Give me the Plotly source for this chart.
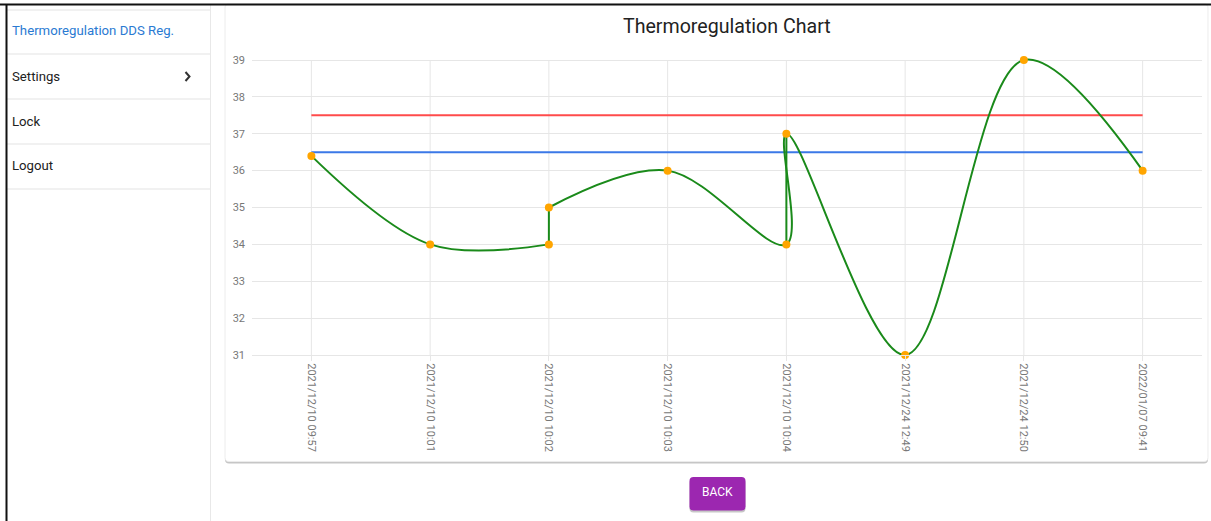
import plotly.graph_objects as go

W, H = 1211, 521
FIG_H = 528  # rendered height (compensates vertical squeeze seen in capture)

# ---------------- data ----------------
categories = ["2021/12/10 09:57", "2021/12/10 10:01", "2021/12/10 10:02", "2021/12/10 10:03",
              "2021/12/10 10:04", "2021/12/24 12:49", "2021/12/24 12:50", "2022/01/07 09:41"]
times = ["2021/12/10 09:57", "2021/12/10 10:01", "2021/12/10 10:02", "2021/12/10 10:02",
         "2021/12/10 10:03", "2021/12/10 10:04", "2021/12/10 10:04", "2021/12/24 12:49",
         "2021/12/24 12:50", "2022/01/07 09:41"]
temperature = [36.4, 34, 34, 35, 36, 34, 37, 31, 39, 36]
upper_limit = [37.5, 37.5, 37.5, 37.5, 37.5, 37.5, 37.5, 37.5]
lower_limit = [36.5, 36.5, 36.5, 36.5, 36.5, 36.5, 36.5, 36.5]
y_ticks = [31, 32, 33, 34, 35, 36, 37, 38, 39]

title_text = "Thermoregulation Chart"
menu_items = ["Thermoregulation DDS Reg.", "Settings", "Lock", "Logout"]
button_text = "BACK"

# pieces of the temperature line (start, stop, shape)
pieces = [(0, 3, "spline"), (2, 4, "linear"), (3, 10, "spline"), (5, 7, "linear")]


def px(x):
    return x / W


def py(y):
    return 1 - y / H


def rrect_path(x0, y0, x1, y1, r):
    pts = [
        ("M", [(x0 + r, y0)]), ("L", [(x1 - r, y0)]), ("Q", [(x1, y0), (x1, y0 + r)]),
        ("L", [(x1, y1 - r)]), ("Q", [(x1, y1), (x1 - r, y1)]), ("L", [(x0 + r, y1)]),
        ("Q", [(x0, y1), (x0, y1 - r)]), ("L", [(x0, y0 + r)]), ("Q", [(x0, y0), (x0 + r, y0)]),
    ]
    s = ""
    for cmd, ps in pts:
        s += cmd + " " + " ".join(f"{px(a):.5f},{py(b):.5f}" for a, b in ps) + " "
    return s + "Z"


FONT = "Roboto, Arial, sans-serif"
GRID = "#e6e6e6"

fig = go.Figure()

fig.add_trace(go.Scatter(x=categories, y=upper_limit, mode="lines",
                         line=dict(color="#ff4b4b", width=2), hoverinfo="skip"))
fig.add_trace(go.Scatter(x=categories, y=lower_limit, mode="lines",
                         line=dict(color="#3b78e7", width=2), hoverinfo="skip"))
for a, b, shape in pieces:
    fig.add_trace(go.Scatter(x=times[a:b], y=temperature[a:b], mode="lines",
                             line=dict(color="#1a8a1a", width=2, shape=shape, smoothing=1.0),
                             hoverinfo="skip"))
fig.add_trace(go.Scatter(x=times, y=temperature, mode="markers", cliponaxis=False,
                         marker=dict(color="#ffa500", size=8, line=dict(width=0))))

shapes = []
# sidebar & card
shapes.append(dict(type="path", xref="paper", yref="paper", layer="below",
                   path=rrect_path(225, 6, 1208, 463.5, 4), fillcolor="#c6c6c6", line=dict(width=0)))
shapes.append(dict(type="path", xref="paper", yref="paper", layer="below",
                   path=rrect_path(225, 4, 1208, 461.5, 4), fillcolor="white",
                   line=dict(color="#ececec", width=1)))
shapes.append(dict(type="line", xref="paper", yref="paper", layer="below",
                   x0=px(210.5), x1=px(210.5), y0=py(4), y1=py(521), line=dict(color="#e8e8e8", width=1)))
for yy in [10, 54, 99, 144, 189]:
    shapes.append(dict(type="line", xref="paper", yref="paper", layer="below",
                       x0=px(7), x1=px(210), y0=py(yy), y1=py(yy), line=dict(color="#e3e3e3", width=1)))
# chevron
shapes.append(dict(type="path", xref="paper", yref="paper",
                   path=f"M {px(185.5)},{py(72)} L {px(189.5)},{py(76.5)} L {px(185.5)},{py(81)}",
                   line=dict(color="#333333", width=2)))
# outer black border
shapes.append(dict(type="line", xref="paper", yref="paper",
                   x0=0, x1=1, y0=py(4.5), y1=py(4.5), line=dict(color="#111111", width=2)))
shapes.append(dict(type="line", xref="paper", yref="paper",
                   x0=px(6.5), x1=px(6.5), y0=py(4), y1=0, line=dict(color="#111111", width=2)))
# vertical gridlines
for c in categories:
    shapes.append(dict(type="line", xref="x", yref="y", layer="below",
                       x0=c, x1=c, y0=y_ticks[0], y1=y_ticks[-1], line=dict(color=GRID, width=1)))
# back button
shapes.append(dict(type="path", xref="paper", yref="paper",
                   path=rrect_path(689.5, 479, 745.5, 512.5, 4), fillcolor="rgba(0,0,0,0.22)",
                   line=dict(width=0)))
shapes.append(dict(type="path", xref="paper", yref="paper",
                   path=rrect_path(689.5, 477, 745.5, 510.5, 4), fillcolor="#9c27b0",
                   line=dict(width=0)))

annotations = []
annotations.append(dict(text=title_text, x=px(727), y=py(26), xref="paper", yref="paper",
                        showarrow=False, xanchor="center", yanchor="middle",
                        font=dict(family=FONT, size=19.6, color="#222222")))
menu_y = [31, 76, 121, 166]
for i, (t, yy) in enumerate(zip(menu_items, menu_y)):
    annotations.append(dict(text=t, x=px(10), y=py(yy), xref="paper", yref="paper",
                            showarrow=False, xanchor="left", yanchor="middle",
                            font=dict(family=FONT, size=13.2,
                                      color="#2a7ad2" if i == 0 else "#212121")))
annotations.append(dict(text=button_text, x=px(717.5), y=py(492), xref="paper", yref="paper",
                        showarrow=False, xanchor="center", yanchor="middle",
                        font=dict(family=FONT, size=12, color="white")))

ppu = (355 - 60) / (y_ticks[-1] - y_ticks[0])
fig.update_layout(
    width=W, height=FIG_H, autosize=False,
    margin=dict(l=0, r=0, t=0, b=0),
    paper_bgcolor="white", plot_bgcolor="rgba(0,0,0,0)",
    showlegend=False,
    shapes=shapes, annotations=annotations,
    xaxis=dict(type="category", categoryorder="array", categoryarray=categories,
               range=[-0.5, len(categories) - 0.5], domain=[px(252), px(1202)],
               showgrid=False, zeroline=False, showline=True, linecolor=GRID, linewidth=1,
               ticks="outside", ticklen=5, tickcolor=GRID, tickangle=90,
               tickfont=dict(family=FONT, size=11, color="#777777"), fixedrange=True),
    yaxis=dict(range=[y_ticks[0], y_ticks[-1] + 10 / ppu], domain=[py(355), py(50)],
               tickvals=y_ticks, showgrid=True, gridcolor=GRID, gridwidth=1,
               zeroline=False, showline=False, ticks="", ticklabelstandoff=6,
               tickfont=dict(family=FONT, size=11, color="#777777"), fixedrange=True),
)

post = (
    "document.documentElement.style.margin='0';"
    "document.body.style.margin='0';"
    "document.body.style.lineHeight='0';"
)
fig.write_html("out.html", config={"displayModeBar": False}, post_script=post)
